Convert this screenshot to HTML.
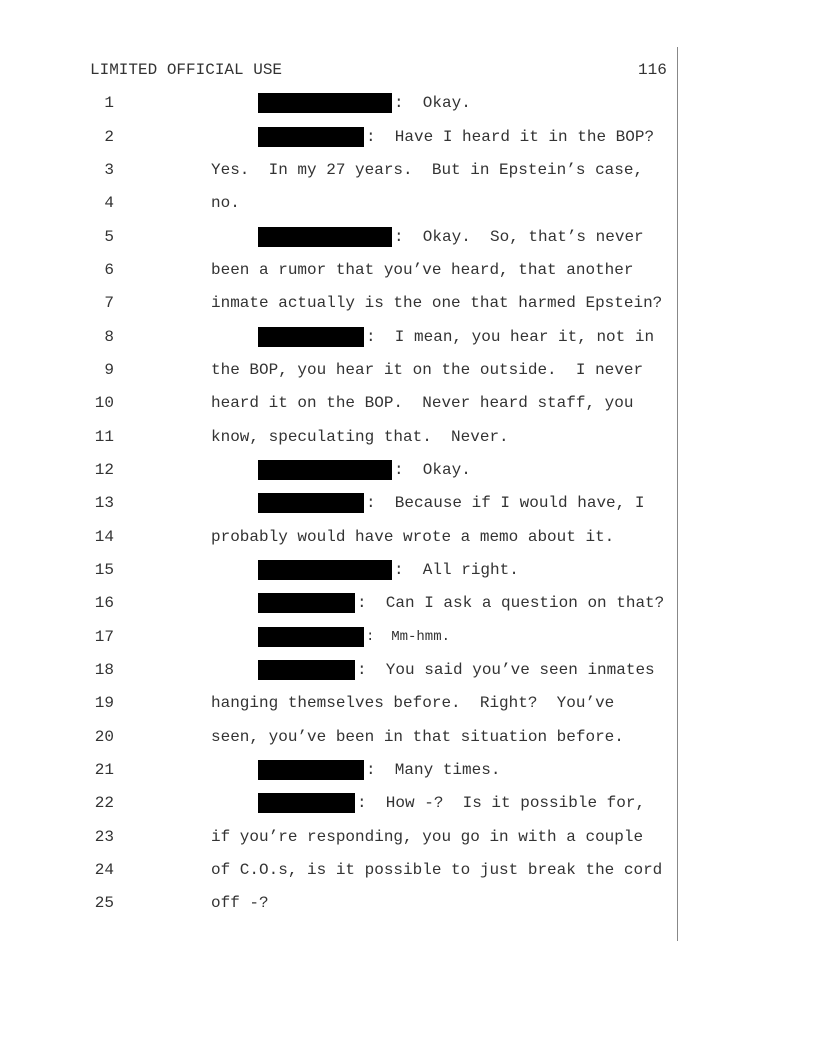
<!DOCTYPE html>
<html><head><meta charset="utf-8"><style>
body{margin:0;width:816px;height:1056px;background:#fff;position:relative;font-family:"Liberation Mono",monospace;font-size:16px;color:#333;}
.a{position:absolute;line-height:20px;white-space:pre;}
.n{position:absolute;width:30px;left:84px;text-align:right;line-height:20px;}
.r{position:absolute;background:#000;height:20px;left:258px;}
.v{position:absolute;left:677px;top:47px;width:1px;height:894px;background:#888;}
</style></head><body>
<div class="a" style="left:90px;top:60px">LIMITED OFFICIAL USE</div>
<div class="a" style="left:638px;top:60px">116</div>
<div class="v"></div>

<div class="n" style="top:93px">1</div><div class="r" style="top:93px;width:134px"></div><div class="a" style="left:394px;top:93px">:  Okay.</div>
<div class="n" style="top:127px">2</div><div class="r" style="top:127px;width:106px"></div><div class="a" style="left:366px;top:127px">:  Have I heard it in the BOP?</div>
<div class="n" style="top:160px">3</div><div class="a" style="left:211px;top:160px">Yes.  In my 27 years.  But in Epstein’s case,</div>
<div class="n" style="top:193px">4</div><div class="a" style="left:211px;top:193px">no.</div>
<div class="n" style="top:227px">5</div><div class="r" style="top:227px;width:134px"></div><div class="a" style="left:394px;top:227px">:  Okay.  So, that’s never</div>
<div class="n" style="top:260px">6</div><div class="a" style="left:211px;top:260px">been a rumor that you’ve heard, that another</div>
<div class="n" style="top:293px">7</div><div class="a" style="left:211px;top:293px">inmate actually is the one that harmed Epstein?</div>
<div class="n" style="top:327px">8</div><div class="r" style="top:327px;width:106px"></div><div class="a" style="left:366px;top:327px">:  I mean, you hear it, not in</div>
<div class="n" style="top:360px">9</div><div class="a" style="left:211px;top:360px">the BOP, you hear it on the outside.  I never</div>
<div class="n" style="top:393px">10</div><div class="a" style="left:211px;top:393px">heard it on the BOP.  Never heard staff, you</div>
<div class="n" style="top:427px">11</div><div class="a" style="left:211px;top:427px">know, speculating that.  Never.</div>
<div class="n" style="top:460px">12</div><div class="r" style="top:460px;width:134px"></div><div class="a" style="left:394px;top:460px">:  Okay.</div>
<div class="n" style="top:493px">13</div><div class="r" style="top:493px;width:106px"></div><div class="a" style="left:366px;top:493px">:  Because if I would have, I</div>
<div class="n" style="top:527px">14</div><div class="a" style="left:211px;top:527px">probably would have wrote a memo about it.</div>
<div class="n" style="top:560px">15</div><div class="r" style="top:560px;width:134px"></div><div class="a" style="left:394px;top:560px">:  All right.</div>
<div class="n" style="top:593px">16</div><div class="r" style="top:593px;width:97px"></div><div class="a" style="left:357px;top:593px">:  Can I ask a question on that?</div>
<div class="n" style="top:627px">17</div><div class="r" style="top:627px;width:106px"></div><div class="a" style="left:366px;top:627px;font-size:14px">:  Mm-hmm.</div>
<div class="n" style="top:660px">18</div><div class="r" style="top:660px;width:97px"></div><div class="a" style="left:357px;top:660px">:  You said you’ve seen inmates</div>
<div class="n" style="top:693px">19</div><div class="a" style="left:211px;top:693px">hanging themselves before.  Right?  You’ve</div>
<div class="n" style="top:727px">20</div><div class="a" style="left:211px;top:727px">seen, you’ve been in that situation before.</div>
<div class="n" style="top:760px">21</div><div class="r" style="top:760px;width:106px"></div><div class="a" style="left:366px;top:760px">:  Many times.</div>
<div class="n" style="top:793px">22</div><div class="r" style="top:793px;width:97px"></div><div class="a" style="left:357px;top:793px">:  How -?  Is it possible for,</div>
<div class="n" style="top:827px">23</div><div class="a" style="left:211px;top:827px">if you’re responding, you go in with a couple</div>
<div class="n" style="top:860px">24</div><div class="a" style="left:211px;top:860px">of C.O.s, is it possible to just break the cord</div>
<div class="n" style="top:893px">25</div><div class="a" style="left:211px;top:893px">off -?</div>
</body></html>
